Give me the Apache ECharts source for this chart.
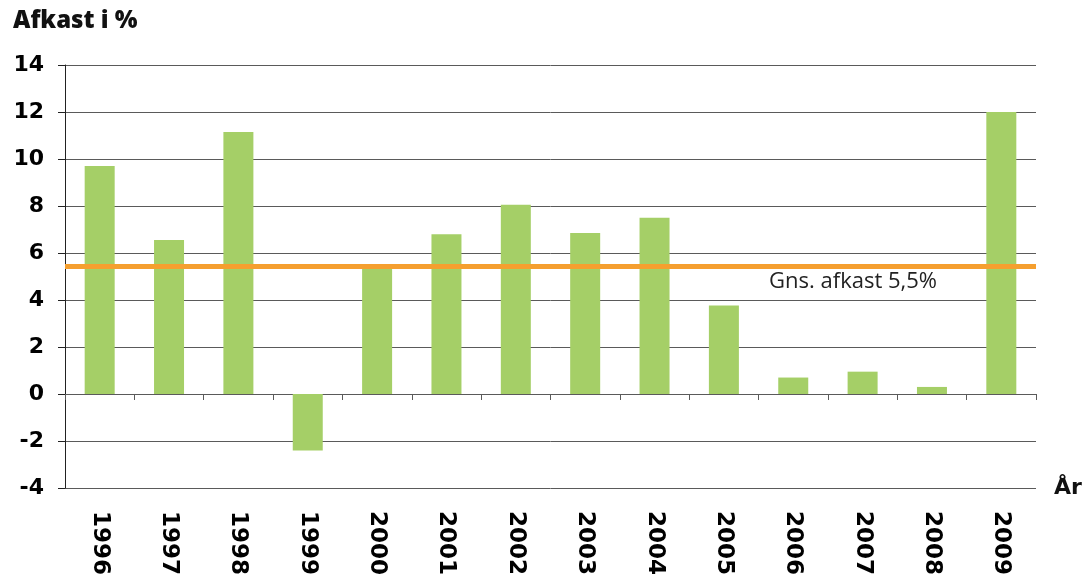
<!DOCTYPE html>
<html>
<head>
	<meta http-equiv="Content-Type" content="text/html;charset=utf-8">
	<title>Afkast i %</title>
	<style>
		html, body{ margin:0; padding:0; background:#fff; }
		#chart{ width:1088px; height:578px; }
	</style>
</head>
<body>
<div id="chart"></div>
<script src="https://cdn.jsdelivr.net/npm/echarts@6/dist/echarts.min.js"></script>
<script>
	// data
	var years = ['1996','1997','1998','1999','2000','2001','2002','2003','2004','2005','2006','2007','2008','2009'];
	var afkast = [9.7, 6.55, 11.15, -2.4, 5.4, 6.8, 8.05, 6.85, 7.5, 3.77, 0.7, 0.95, 0.3, 12.0];
	var gnsAfkast = 5.45;
	var gnsLabel = 'Gns. afkast 5,5%';
	var yTicks = [-4, -2, 0, 2, 4, 6, 8, 10, 12, 14];

	var lineCol = '#5a5a5a';

	var option = {
		animation: false,
		title: {
			text: 'Afkast i %',
			left: 8,
			top: 4,
			textStyle: {fontFamily: 'Open Sans', fontWeight: 800, fontSize: 24, color: '#111'}
		},
		grid: {left: 65, right: 52, top: 65, bottom: 88, containLabel: false},
		xAxis: [
			{
				// zero line with ticks
				type: 'category',
				data: years,
				position: 'bottom',
				axisLine: {onZero: true, lineStyle: {color: lineCol, width: 1}},
				axisTick: {show: true, length: 6, lineStyle: {color: lineCol}},
				axisLabel: {show: false},
				splitLine: {show: false}
			},
			{
				// labels at the bottom
				type: 'category',
				data: years,
				position: 'bottom',
				name: 'År',
				nameLocation: 'end',
				nameGap: 18,
				nameTextStyle: {fontFamily: 'DejaVu Sans', fontWeight: 'bold', fontSize: 22, color: '#111', verticalAlign: 'middle'},
				axisLine: {show: false, onZero: false},
				axisTick: {show: false},
				axisLabel: {
					rotate: -90,
					margin: 23,
					fontFamily: 'DejaVu Sans',
					fontWeight: 'bold',
					fontSize: 23,
					color: '#000'
				},
				splitLine: {show: false}
			}
		],
		yAxis: {
			type: 'value',
			min: yTicks[0],
			max: yTicks[yTicks.length - 1],
			interval: 2,
			axisLine: {show: true, lineStyle: {color: '#222', width: 1}},
			axisTick: {show: true, length: 7, lineStyle: {color: '#222'}},
			axisLabel: {
				margin: 21,
				fontFamily: 'DejaVu Sans',
				fontWeight: 'bold',
				fontSize: 22,
				color: '#000'
			},
			splitLine: {show: true, lineStyle: {color: lineCol, width: 1}}
		},
		series: [
			{
				name: 'Afkast',
				type: 'bar',
				xAxisIndex: 0,
				barWidth: 30,
				data: afkast,
				itemStyle: {color: '#a5cf67'},
				markLine: {
					symbol: 'none',
					silent: true,
					z: 5,
					lineStyle: {color: '#f59f2f', width: 5, type: 'solid'},
					label: {
						show: true,
						position: 'insideEndBottom',
						formatter: gnsLabel,
						distance: [99, 5],
						fontFamily: 'Open Sans',
						fontSize: 22,
						color: '#222'
					},
					data: [{yAxis: gnsAfkast}]
				}
			}
		]
	};

	var myChart = echarts.init(document.getElementById('chart'));
	myChart.setOption(option);
</script>
</body>
</html>
